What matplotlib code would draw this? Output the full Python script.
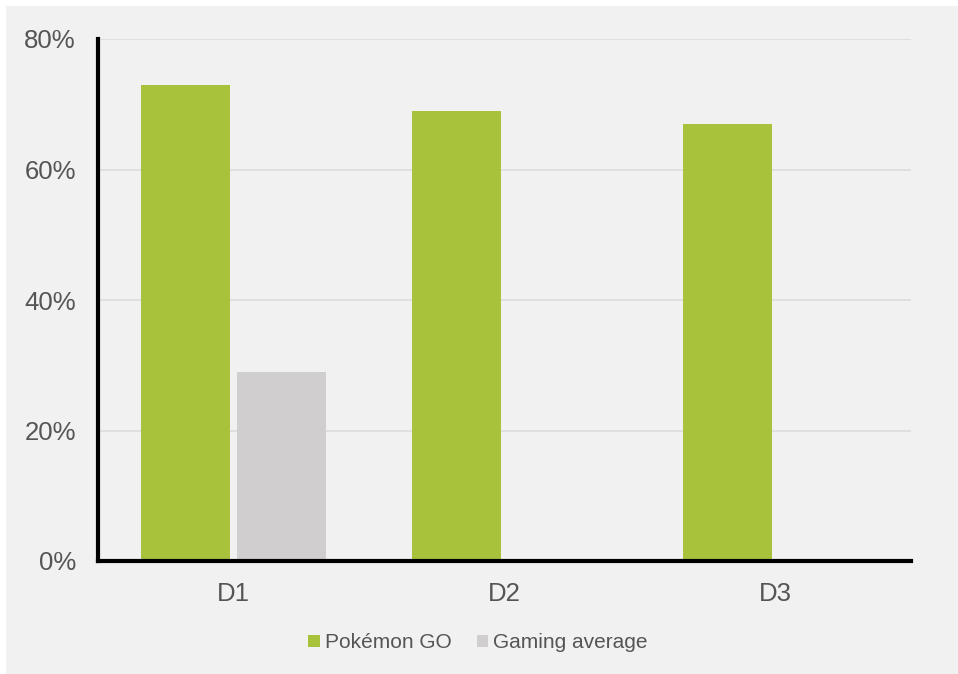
import matplotlib
matplotlib.use("Agg")
import matplotlib.pyplot as plt
import numpy as np
from matplotlib.patches import Rectangle

categories = ["D1", "D2", "D3"]
pokemon_go = [73, 69, 67]
gaming_avg = [29, np.nan, np.nan]
yticks = [0, 20, 40, 60, 80]
series_names = ["Pokémon GO", "Gaming average"]

plt.rcParams['font.family'] = ['Liberation Sans', 'DejaVu Sans']
TXT = '#555555'
GREEN = '#a8c23c'
GRAY = '#d0cecf'
BG = '#f1f1f1'

fig = plt.figure(figsize=(9.58, 6.74), dpi=100)
fig.patch.set_facecolor('white')
fig.patches.append(Rectangle((6/958, 0), 1 - 6/958, 1 - 6/674, transform=fig.transFigure,
                             facecolor=BG, edgecolor='none', zorder=-10))

W, H = 958, 674
left, right, top, bottom = 98, 911, 39, 561
ax = fig.add_axes([left / W, 1 - bottom / H, (right - left) / W, (bottom - top) / H])
ax.set_facecolor(BG)
ax.patch.set_alpha(0)

x = np.arange(len(categories))
bw = 0.325
off = 0.177
ax.bar(x - off, pokemon_go, width=bw, color=GREEN, label=series_names[0], zorder=3)
ax.bar(x + off, gaming_avg, width=bw, color=GRAY, label=series_names[1], zorder=3)

ax.set_xlim(-0.5, 2.5)
ax.set_ylim(0, 80)
ax.set_yticks(yticks)
ax.set_yticklabels([f"{v}%" for v in yticks])
ax.set_xticks(x)
ax.set_xticklabels(categories)
ax.yaxis.grid(True, color='#dcdcdc', linewidth=1.2, zorder=0)
ax.set_axisbelow(True)
for s in ['top', 'right']:
    ax.spines[s].set_visible(False)
for s in ['left', 'bottom']:
    ax.spines[s].set_linewidth(3)
    ax.spines[s].set_color('black')
    ax.spines[s].set_zorder(5)
ax.tick_params(axis='both', length=0, labelsize=18.5, colors=TXT)
ax.tick_params(axis='y', pad=16)
ax.tick_params(axis='x', pad=15)

leg = fig.legend(loc='center', bbox_to_anchor=(478 / W, 1 - 643 / H), ncol=2, frameon=False,
                 fontsize=15, labelcolor=TXT, handlelength=0.55, handleheight=0.55,
                 handletextpad=0.25, columnspacing=1.2)

fig.savefig("out.png", dpi=100, facecolor=fig.get_facecolor())
